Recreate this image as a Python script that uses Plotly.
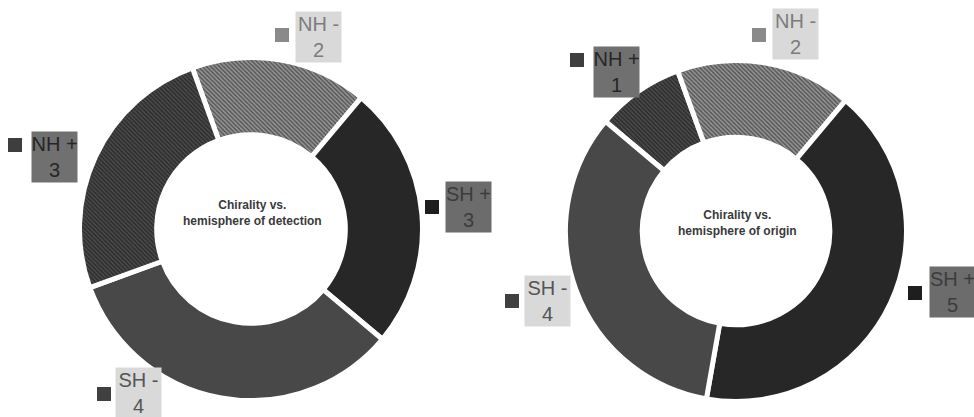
import plotly.graph_objects as go

W, H = 974, 417

# ---- data ----
labels_det = ["NH -", "SH +", "SH -", "NH +"]
values_det = [2, 3, 4, 3]
labels_org = ["NH +", "NH -", "SH +", "SH -"]
values_org = [1, 2, 5, 4]
title_det = "Chirality vs.<br>hemisphere of detection"
title_org = "Chirality vs.<br>hemisphere of origin"

# ---- style per category ----
style = {
    "NH -": dict(bg="#989898", fg="#555555", shape="\\", key="#8a8a8a",
                 box="#d9d9d9", txt="#7c7c7c"),
    "NH +": dict(bg="#4c4c4c", fg="#2c2c2c", shape="\\", key="#3e3e3e",
                 box="#707070", txt="#262626"),
    "SH +": dict(bg="#272727", fg="#272727", shape="", key="#1e1e1e",
                 box="#6c6c6c", txt="#3c3c3c"),
    "SH -": dict(bg="#484848", fg="#484848", shape="", key="#404040",
                 box="#d9d9d9", txt="#555555"),
}


def px_x(p):
    return p / W


def px_y(p):
    return 1 - p / H


def pie(labels, values, cx, cy, r, rotation):
    return go.Pie(
        labels=labels, values=values, sort=False, direction="clockwise",
        rotation=rotation, hole=0.55, textinfo="none", hoverinfo="label+value",
        domain=dict(x=[px_x(cx - r), px_x(cx + r)],
                    y=[px_y(cy + r), px_y(cy - r)]),
        marker=dict(
            colors=[style[l]["bg"] for l in labels],
            line=dict(color="white", width=5),
            pattern=dict(shape=[style[l]["shape"] for l in labels],
                         bgcolor=[style[l]["bg"] for l in labels],
                         fgcolor=[style[l]["fg"] for l in labels],
                         size=3, solidity=0.5),
        ),
        showlegend=False,
    )


fig = go.Figure()
fig.add_trace(pie(labels_det, values_det, 251, 229, 171.5, -20))
fig.add_trace(pie(labels_org, values_org, 736, 231, 170.5, -50))

# label placements (pixel centres of label box and key square)
place_det = {"NH -": (318, 37), "SH +": (468, 207), "SH -": (138, 393), "NH +": (54, 157)}
key_det = {"NH -": (282, 35), "SH +": (432, 207), "SH -": (104, 394), "NH +": (15, 145)}
place_org = {"NH -": (795, 34), "SH +": (952, 292), "SH -": (547, 301), "NH +": (616, 72)}
key_org = {"NH -": (759, 35), "SH +": (915, 293), "SH -": (512, 301), "NH +": (577, 60)}

annotations = []
shapes = []
for labels, values, place, keys in [(labels_det, values_det, place_det, key_det),
                                    (labels_org, values_org, place_org, key_org)]:
    for l, v in zip(labels, values):
        bx, by = place[l]
        annotations.append(dict(
            text=f"{l}<br>{v}", x=px_x(bx), y=px_y(by), xref="paper", yref="paper",
            xanchor="center", yanchor="middle", showarrow=False,
            width=45, height=50, bgcolor=style[l]["box"], borderpad=0,
            font=dict(family="Liberation Sans, Arial", size=20, color=style[l]["txt"]),
        ))
        kx, ky = keys[l]
        shapes.append(dict(
            type="rect", xref="paper", yref="paper",
            x0=px_x(kx - 7), x1=px_x(kx + 7), y0=px_y(ky + 7), y1=px_y(ky - 7),
            fillcolor=style[l]["key"], line=dict(width=0),
        ))

for txt, cx, cy in [(title_det, 252, 213), (title_org, 737, 223)]:
    annotations.append(dict(
        text=f"<b>{txt}</b>", x=px_x(cx), y=px_y(cy), xref="paper", yref="paper",
        xanchor="center", yanchor="middle", showarrow=False,
        font=dict(family="Liberation Sans, Arial", size=12, color="#3a3a3a"),
    ))

fig.update_layout(
    width=W, height=H, margin=dict(l=0, r=0, t=0, b=0),
    paper_bgcolor="white", plot_bgcolor="white",
    annotations=annotations, shapes=shapes,
)

fig.write_html(
    "out.html",
    config={"displayModeBar": False},
    post_script="document.body.style.margin='0';document.body.style.overflow='hidden';",
)
